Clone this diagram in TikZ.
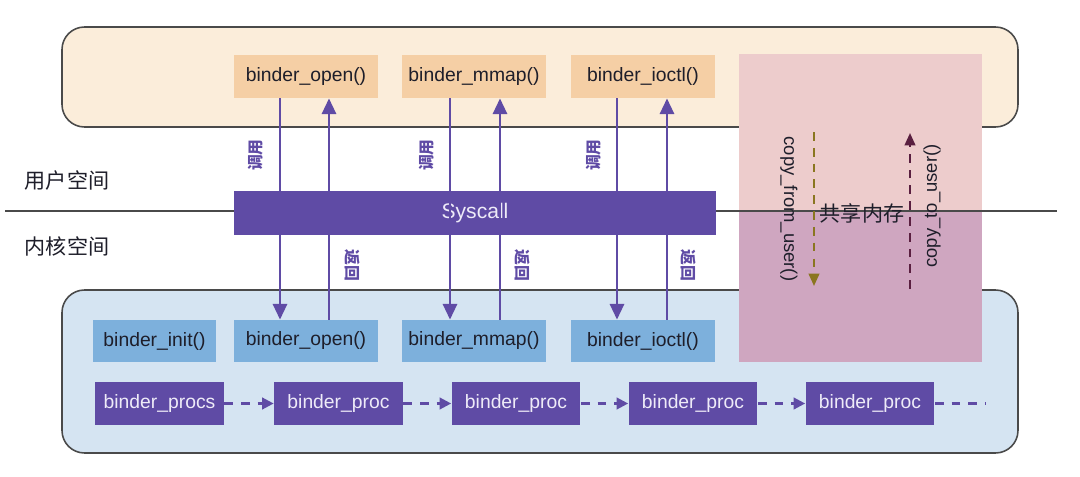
\documentclass[tikz,border=0pt]{standalone}
\usepackage{fontspec}
\setmainfont{Liberation Sans}
\newfontfamily\cjk{Noto Sans CJK SC}
\usetikzlibrary{arrows.meta}
\definecolor{userbg}{HTML}{FBEDDA}
\definecolor{userfn}{HTML}{F5CFA5}
\definecolor{kernbg}{HTML}{D5E4F2}
\definecolor{kernfn}{HTML}{7DB0DC}
\definecolor{purp}{HTML}{5F4BA5}
\definecolor{pinkA}{HTML}{EDCCCC}
\definecolor{pinkB}{HTML}{CFA6C0}
\definecolor{olive}{HTML}{8A7620}
\definecolor{maroon}{HTML}{5A1F40}
\definecolor{bord}{HTML}{4A4A4A}
\definecolor{txt}{HTML}{1E1E2A}
\definecolor{ptxt}{HTML}{EEEBF8}
\tikzset{
  x=0.02cm, y=-0.02cm,
  area/.style={draw=bord, line width=0.9pt, rounded corners=0.45cm},
  ufn/.style={fill=userfn, text=txt, minimum width=2.88cm, minimum height=0.86cm, inner sep=0pt, font=\fontsize{11}{13}\selectfont},
  kfn/.style={fill=kernfn, text=txt, minimum height=0.84cm, inner sep=0pt, font=\fontsize{11}{13}\selectfont},
  proc/.style={fill=purp, text=ptxt, minimum width=2.58cm, minimum height=0.86cm, inner sep=0pt, font=\fontsize{11}{13}\selectfont},
  varr/.style={draw=purp, line width=1.7pt, -{Triangle[width=8pt,length=9pt]}},
  dline/.style={draw=purp, line width=1.4pt, dash pattern=on 5pt off 4.5pt},
  darr/.style={dline, -{Triangle[width=6.5pt,length=6.5pt]}},
  vlab/.style={text=purp, font=\cjk\bfseries\fontsize{9}{10}\selectfont, inner sep=0pt},
  side/.style={text=txt, font=\cjk\fontsize{12}{14}\selectfont, inner sep=0pt},
  clab/.style={text=txt, font=\fontsize{10.5}{12}\selectfont, inner sep=0pt}
}
\begin{document}
\begin{tikzpicture}
\useasboundingbox[fill=white] (0,0) rectangle (1080,477);
% space areas
\draw[area, fill=userbg] (62,27) rectangle (1018,127);
\draw[area, fill=kernbg] (62,290) rectangle (1018,453);
% shared memory
\fill[pinkA] (739,54) rectangle (982,211);
\fill[pinkB] (739,211) rectangle (982,362);
% divider
\coordinate (hl) at (5,211);
\coordinate (hr) at (1057,211);
\draw[bord, line width=0.9pt] (hl) -- (hr);
\node[side] (us) at (67,180) {用户空间};
\node[side] (ks) at (67,246) {内核空间};
% user functions
\node[ufn] (uo) at (306,76.5) {binder\_open()};
\node[ufn] (um) at (474,76.5) {binder\_mmap()};
\node[ufn] (ui) at (643,76.5) {binder\_ioctl()};
% syscall
\node[fill=purp, text=ptxt, minimum width=9.64cm, minimum height=0.88cm, inner sep=0pt, font=\fontsize{12}{14}\selectfont] (sys) at (475,213) {Syscall};
% kernel functions
\node[kfn, minimum width=2.46cm] (kinit) at (154.5,341) {binder\_init()};
\node[kfn, minimum width=2.88cm] (ko) at (306,341) {binder\_open()};
\node[kfn, minimum width=2.88cm] (km) at (474,341) {binder\_mmap()};
\node[kfn, minimum width=2.88cm] (ki) at (643,341) {binder\_ioctl()};
% procs
\node[proc] (p0) at (159.5,403.5) {binder\_procs};
\node[proc] (p1) at (338.5,403.5) {binder\_proc};
\node[proc] (p2) at (516,403.5) {binder\_proc};
\node[proc] (p3) at (693,403.5) {binder\_proc};
\node[proc] (p4) at (870,403.5) {binder\_proc};
\coordinate (pend) at (985,403.5);
\draw[darr] (p0) -- (p1);
\draw[darr] (p1) -- (p2);
\draw[darr] (p2) -- (p3);
\draw[darr] (p3) -- (p4);
\draw[dline] (p4) -- (pend);
% vertical arrows
\coordinate (x1) at (280,0); \coordinate (x2) at (329,0);
\coordinate (x3) at (450,0); \coordinate (x4) at (500,0);
\coordinate (x5) at (617,0); \coordinate (x6) at (667,0);
\draw[varr] (uo.south -| x1) -- (ko.north -| x1);
\draw[varr] (ko.north -| x2) -- (uo.south -| x2);
\draw[varr] (um.south -| x3) -- (km.north -| x3);
\draw[varr] (km.north -| x4) -- (um.south -| x4);
\draw[varr] (ui.south -| x5) -- (ki.north -| x5);
\draw[varr] (ki.north -| x6) -- (ui.south -| x6);
% vertical labels
\node[vlab, rotate=90] (c1) at (256,155) {调用};
\node[vlab, rotate=90] (c2) at (427,155) {调用};
\node[vlab, rotate=90] (c3) at (594,155) {调用};
\node[vlab, rotate=-90] (r1) at (352,265) {返回};
\node[vlab, rotate=-90] (r2) at (522,265) {返回};
\node[vlab, rotate=-90] (r3) at (688,265) {返回};
% shared memory contents
\node[text=txt, font=\cjk\fontsize{12}{14}\selectfont, inner sep=0pt] (sm) at (862,213) {共享内存};
\coordinate (cf1) at (814,132); \coordinate (cf2) at (814,286);
\coordinate (ct1) at (910,289); \coordinate (ct2) at (910,133);
\draw[draw=olive, line width=1.2pt, dash pattern=on 5pt off 4pt, -{Triangle[width=6pt,length=7pt]}] (cf1) -- (cf2);
\draw[draw=maroon, line width=1.2pt, dash pattern=on 5pt off 4pt, -{Triangle[width=6pt,length=7pt]}] (ct1) -- (ct2);
\node[clab, rotate=-90] (lf) at (789,209) {copy\_from\_user()};
\node[clab, rotate=90] (lt) at (932,206) {copy\_to\_user()};
\end{tikzpicture}
\end{document}
